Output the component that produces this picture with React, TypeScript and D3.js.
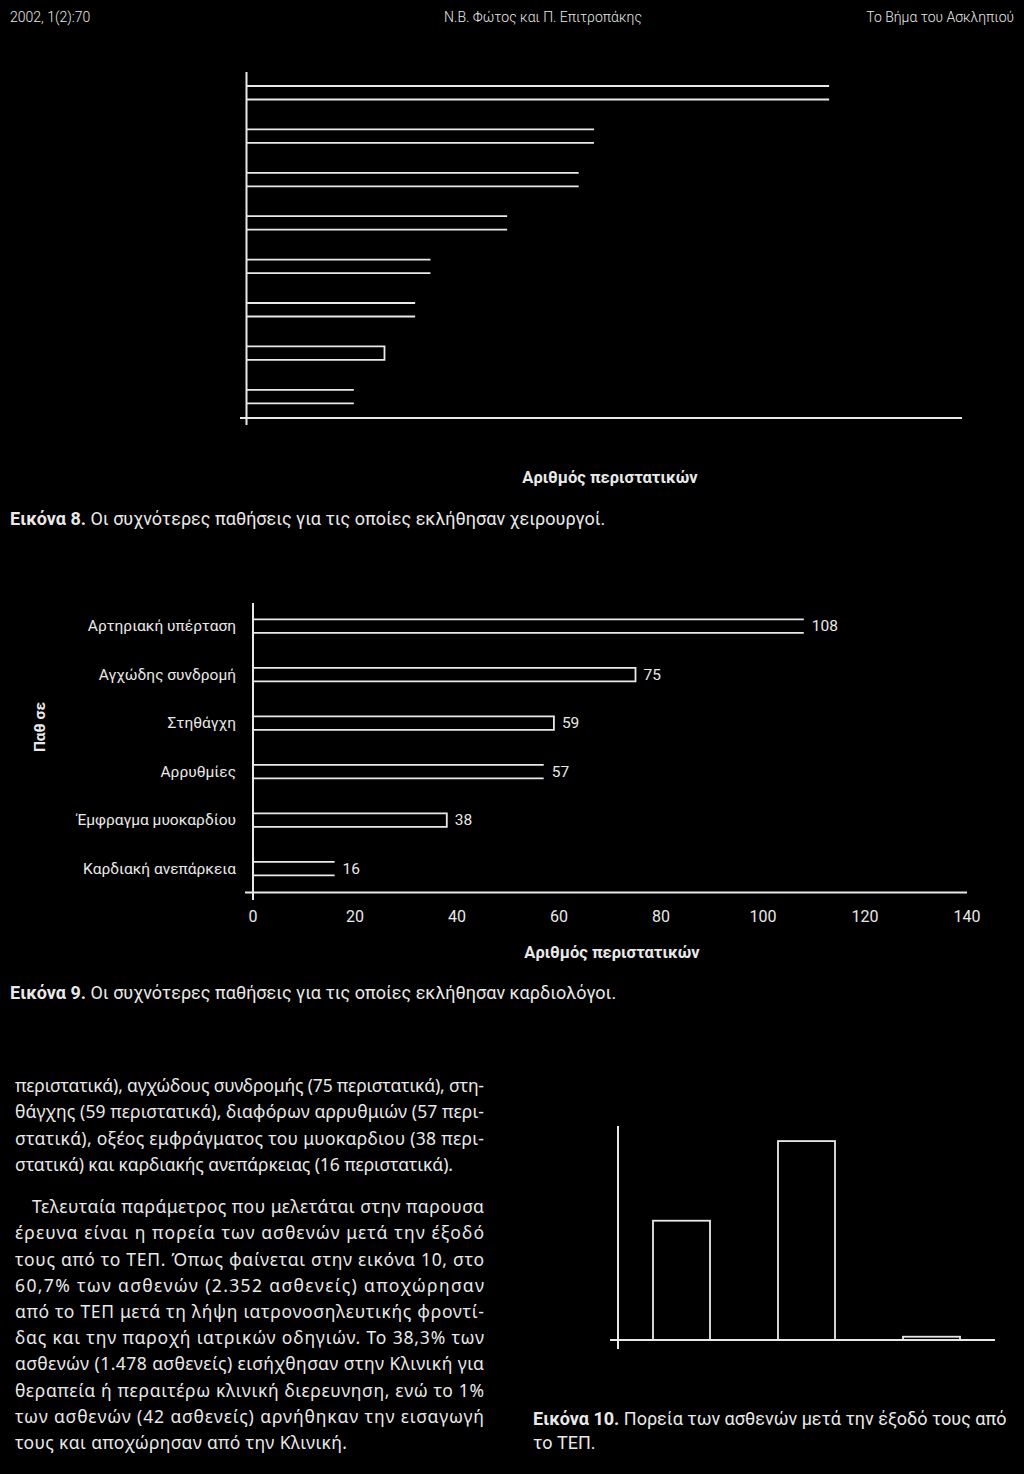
import React, { useEffect } from 'react';
import * as d3 from 'd3';

const W = 1024;
const H = 1474;

// ---------- Header ----------
const headerLeft = '2002, 1(2):70';
const headerCenter = 'Ν.Β. Φώτος και Π. Επιτροπάκης';
const headerRight = 'Το Βήμα του Ασκληπιού';

// ---------- Figure 8 ----------
const fig8Categories = ['Π1', 'Π2', 'Π3', 'Π4', 'Π5', 'Π6', 'Π7', 'Π8'];
const fig8Values = [114, 68, 65, 51, 36, 33, 27, 21];
const fig8Closed = [false, false, false, false, false, false, true, false];
const fig8AxisTitle = 'Αριθμός περιστατικών';
const fig8CaptionBold = 'Εικόνα 8.';
const fig8CaptionText = ' Οι συχνότερες παθήσεις για τις οποίες εκλήθησαν χειρουργοί.';

// ---------- Figure 9 ----------
const fig9Categories = [
  'Αρτηριακή υπέρταση',
  'Αγχώδης συνδρομή',
  'Στηθάγχη',
  'Αρρυθμίες',
  'Έμφραγμα μυοκαρδίου',
  'Καρδιακή ανεπάρκεια',
];
const fig9Values = [108, 75, 59, 57, 38, 16];
const fig9Closed = [false, true, true, false, true, false];
const fig9Ticks = [0, 20, 40, 60, 80, 100, 120, 140];
const fig9YTitle = 'Παθ σε';
const fig9AxisTitle = 'Αριθμός περιστατικών';
const fig9CaptionBold = 'Εικόνα 9.';
const fig9CaptionText = ' Οι συχνότερες παθήσεις για τις οποίες εκλήθησαν καρδιολόγοι.';

// ---------- Figure 10 ----------
const fig10Categories = ['Εισαγωγή στην Κλινική', 'Αποχώρηση από το ΤΕΠ', 'Άρνηση εισαγωγής'];
const fig10Values = [36.4, 60.7, 1.0];
const fig10CaptionBold = 'Εικόνα 10.';
const fig10CaptionLines = [' Πορεία των ασθενών μετά την έξοδό τους από', 'το ΤΕΠ.'];

// ---------- Body text ----------
const para1Lines = [
  'περιστατικά), αγχώδους συνδρομής (75 περιστατικά), στη-',
  'θάγχης (59 περιστατικά), διαφόρων αρρυθμιών (57 περι-',
  'στατικά), οξέος εμφράγματος του μυοκαρδιου (38 περι-',
  'στατικά) και καρδιακής ανεπάρκειας (16 περιστατικά).',
];
const para2Lines = [
  'Τελευταία παράμετρος που μελετάται στην παρουσα',
  'έρευνα είναι η πορεία των ασθενών μετά την έξοδό',
  'τους από το ΤΕΠ. Όπως φαίνεται στην εικόνα 10, στο',
  '60,7% των ασθενών (2.352 ασθενείς) αποχώρησαν',
  'από το ΤΕΠ μετά τη λήψη ιατρονοσηλευτικής φροντί-',
  'δας και την παροχή ιατρικών οδηγιών. Το 38,3% των',
  'ασθενών (1.478 ασθενείς) εισήχθησαν στην Κλινική για',
  'θεραπεία ή περαιτέρω κλινική διερευνηση, ενώ το 1%',
  'των ασθενών (42 ασθενείς) αρνήθηκαν την εισαγωγή',
  'τους και αποχώρησαν από την Κλινική.',
];

const FG = '#e9e9e9';
const CHART_FONT = 'Roboto, "Noto Sans", sans-serif';
const BODY_FONT = '"Noto Sans", "Open Sans", sans-serif';

function HBar({ x0, x1, y0, y1, closed }: { x0: number; x1: number; y0: number; y1: number; closed: boolean }) {
  const p = d3.path();
  p.moveTo(x0, y0);
  p.lineTo(x1, y0);
  if (closed) {
    p.lineTo(x1, y1);
  } else {
    p.moveTo(x1, y1);
  }
  p.lineTo(x0, y1);
  return <path d={p.toString()} fill="none" stroke={FG} strokeWidth={1.8} />;
}

export default function App() {
  useEffect(() => {
    document.body.style.margin = '0';
    document.body.style.background = '#000';
  }, []);

  // Figure 8 scales
  const x8 = d3.scaleLinear().domain([0, 140]).range([246.5, 962]);
  const y8 = d3.scaleBand<string>().domain(fig8Categories).range([86, 403.3]).paddingInner(0.689).paddingOuter(0);

  // Figure 9 scales
  const x9 = d3.scaleLinear().domain([0, 140]).range([253, 967]);
  const y9 = d3.scaleBand<string>().domain(fig9Categories).range([619.3, 875.3]).paddingInner(0.722).paddingOuter(0);

  // Figure 10 scales
  const x10 = d3.scaleBand<string>().domain(fig10Categories).range([653, 960]).paddingInner(0.544).paddingOuter(0);
  const y10 = d3.scaleLinear().domain([0, 65]).range([1340, 1127]);

  const bodyLineH = 26.2;

  return (
    <svg
      width={W}
      height={H}
      viewBox={`0 0 ${W} ${H}`}
      style={{ position: 'absolute', left: 0, top: 0, display: 'block', background: '#000' }}
    >
      <rect x={0} y={0} width={W} height={H} fill="#000" />

      {/* Header */}
      <g fill={FG} fontFamily={CHART_FONT} fontSize={14} fontWeight={300}>
        <text x={10} y={17} dy=".35em">{headerLeft}</text>
        <text x={543} y={17} dy=".35em" textAnchor="middle">{headerCenter}</text>
        <text x={1014} y={17} dy=".35em" textAnchor="end">{headerRight}</text>
      </g>

      {/* ---------- Figure 8 ---------- */}
      <g>
        {fig8Categories.map((c, i) => (
          <HBar
            key={c}
            x0={x8(0)}
            x1={x8(fig8Values[i])}
            y0={y8(c)!}
            y1={y8(c)! + y8.bandwidth()}
            closed={fig8Closed[i]}
          />
        ))}
        <line x1={x8(0)} x2={x8(0)} y1={72} y2={425} stroke={FG} strokeWidth={2} />
        <line x1={240} x2={x8(140)} y1={418} y2={418} stroke={FG} strokeWidth={2} />
        <text x={610} y={477} dy=".35em" textAnchor="middle" fill={FG} fontFamily={CHART_FONT} fontSize={16.5} fontWeight={700}>
          {fig8AxisTitle}
        </text>
        <text x={10} y={519} dy=".35em" fill={FG} fontFamily={CHART_FONT} fontSize={18}>
          <tspan fontWeight={700}>{fig8CaptionBold}</tspan>
          <tspan>{fig8CaptionText}</tspan>
        </text>
      </g>

      {/* ---------- Figure 9 ---------- */}
      <g>
        {fig9Categories.map((c, i) => {
          const yTop = y9(c)!;
          const yMid = yTop + y9.bandwidth() / 2;
          return (
            <g key={c}>
              <HBar x0={x9(0)} x1={x9(fig9Values[i])} y0={yTop} y1={yTop + y9.bandwidth()} closed={fig9Closed[i]} />
              <text x={236} y={yMid} dy=".35em" textAnchor="end" fill={FG} fontFamily={CHART_FONT} fontSize={15.5}>
                {c}
              </text>
              <text x={x9(fig9Values[i]) + 8} y={yMid} dy=".35em" fill={FG} fontFamily={CHART_FONT} fontSize={15.5}>
                {fig9Values[i]}
              </text>
            </g>
          );
        })}
        <line x1={x9(0)} x2={x9(0)} y1={603} y2={900} stroke={FG} strokeWidth={2} />
        <line x1={245} x2={x9(140)} y1={892.5} y2={892.5} stroke={FG} strokeWidth={2} />
        {fig9Ticks.map((t) => (
          <text key={t} x={x9(t)} y={916} dy=".35em" textAnchor="middle" fill={FG} fontFamily={CHART_FONT} fontSize={16}>
            {t}
          </text>
        ))}
        <text
          transform="translate(40,727) rotate(-90)"
          textAnchor="middle"
          dy=".35em"
          fill={FG}
          fontFamily={CHART_FONT}
          fontSize={15.5}
          fontWeight={700}
        >
          {fig9YTitle}
        </text>
        <text x={612} y={952} dy=".35em" textAnchor="middle" fill={FG} fontFamily={CHART_FONT} fontSize={16.5} fontWeight={700}>
          {fig9AxisTitle}
        </text>
        <text x={10} y={993} dy=".35em" fill={FG} fontFamily={CHART_FONT} fontSize={18}>
          <tspan fontWeight={700}>{fig9CaptionBold}</tspan>
          <tspan>{fig9CaptionText}</tspan>
        </text>
      </g>

      {/* ---------- Body text ---------- */}
      <g fill={FG} fontFamily={BODY_FONT} fontSize={17.5}>
        {para1Lines.map((l, i) => {
          const last = i === para1Lines.length - 1;
          return (
            <text
              key={'p1' + i}
              x={15}
              y={1086 + i * bodyLineH}
              dy=".35em"
              textLength={last ? 438 : 469}
              lengthAdjust="spacing"
            >
              {l}
            </text>
          );
        })}
        {para2Lines.map((l, i) => {
          const last = i === para2Lines.length - 1;
          const x = i === 0 ? 32 : 15;
          return (
            <text
              key={'p2' + i}
              x={x}
              y={1207 + i * bodyLineH}
              dy=".35em"
              textLength={last ? 332 : 484 - x}
              lengthAdjust="spacing"
            >
              {l}
            </text>
          );
        })}
      </g>

      {/* ---------- Figure 10 ---------- */}
      <g>
        {fig10Categories.map((c, i) => (
          <rect
            key={c}
            x={x10(c)!}
            y={y10(fig10Values[i])}
            width={x10.bandwidth()}
            height={y10(0) - y10(fig10Values[i])}
            fill="none"
            stroke={FG}
            strokeWidth={1.8}
          />
        ))}
        <line x1={618} x2={618} y1={1126} y2={1349} stroke={FG} strokeWidth={2} />
        <line x1={610} x2={995} y1={y10(0)} y2={y10(0)} stroke={FG} strokeWidth={2} />
        <text x={533} y={1419} dy=".35em" fill={FG} fontFamily={CHART_FONT} fontSize={18}>
          <tspan fontWeight={700}>{fig10CaptionBold}</tspan>
          <tspan>{fig10CaptionLines[0]}</tspan>
        </text>
        <text x={533} y={1443} dy=".35em" fill={FG} fontFamily={CHART_FONT} fontSize={18}>
          {fig10CaptionLines[1]}
        </text>
      </g>
    </svg>
  );
}
